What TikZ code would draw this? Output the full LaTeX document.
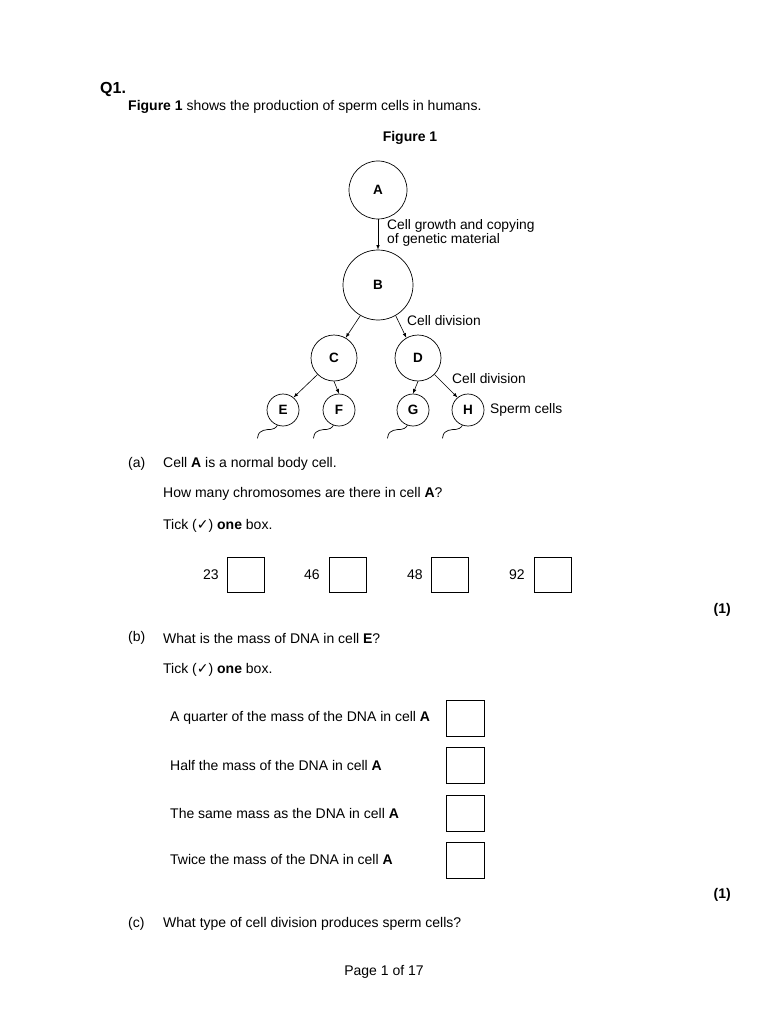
\documentclass[tikz,border=0pt]{standalone}
\usepackage{fontspec}
\setmainfont{Liberation Sans}
\newfontfamily\dejavu{DejaVu Sans}
\begin{document}
\begin{tikzpicture}[x=1pt,y=-1pt,
  txt/.style={anchor=west,inner sep=0pt,font=\fontsize{14}{16}\selectfont},
  dtxt/.style={anchor=west,inner sep=0pt,font=\fontsize{13.8}{16}\selectfont},
  cell/.style={draw,circle,line width=0.7pt,inner sep=0pt,font=\fontsize{13.5}{15}\selectfont\bfseries},
  ansbox/.style={draw,line width=0.7pt,minimum width=37pt,minimum height=35pt,inner sep=0pt},
  arr/.style={-latex,line width=0.6pt},
  tail/.style={line width=0.7pt}]
\useasboundingbox[fill=white] (0,0) rectangle (768,1024);
\node[anchor=west,inner sep=0pt,font=\fontsize{16}{18}\selectfont\bfseries] (q) at (100,89) {Q1.};
\node[txt] (t1) at (128,107) {\textbf{Figure 1} shows the production of sperm cells in humans.};
\node[txt,anchor=center] (fig) at (410,138) {\textbf{Figure 1}};
% cells
\node[cell,minimum size=58pt] (A) at (378,190) {A};
\node[cell,minimum size=70pt] (B) at (378,285) {B};
\node[cell,minimum size=46pt] (C) at (334,358) {C};
\node[cell,minimum size=46pt] (D) at (418,358) {D};
\node[cell,minimum size=32pt] (E) at (283,410) {E};
\node[cell,minimum size=32pt] (F) at (339,410) {F};
\node[cell,minimum size=32pt] (G) at (413,410) {G};
\node[cell,minimum size=32pt] (H) at (468,410) {H};
\draw[arr] (A) -- (B);
\draw[arr] (B.240) -- (C.60);
\draw[arr] (B.300) -- (D.120);
\draw[arr] (C.225) -- (E.50);
\draw[arr] (C.270) -- (F.90);
\draw[arr] (D.270) -- (G.90);
\draw[arr] (D.315) -- (H.130);
\foreach \n in {E,F,G,H}{
  \draw[tail] (\n.250) .. controls +(-4,6) and +(6,-2) .. ++(-14,5) .. controls +(-5,2) and +(0,-3) .. ++(-6,8);
}
\node[dtxt] (l1) at (387,226) {Cell growth and copying};
\node[dtxt] (l2) at (387,240) {of genetic material};
\node[dtxt] (l3) at (407,321) {Cell division};
\node[dtxt] (l4) at (452,379) {Cell division};
\node[dtxt] (l5) at (490,410) {Sperm cells};
% (a)
\node[txt] (pa) at (128,464) {(a)};
\node[txt] (a1) at (163,464) {Cell \textbf{A} is a normal body cell.};
\node[txt] (a2) at (163,494) {How many chromosomes are there in cell \textbf{A}?};
\node[txt] (a3) at (163,526) {Tick ({\dejavu\bfseries ✓}) \textbf{one} box.};
\node[txt] (n23) at (203,575) {23};
\node[ansbox] (b23) at (245.5,574.5) {};
\node[txt] (n46) at (304,575) {46};
\node[ansbox] (b46) at (347.5,574.5) {};
\node[txt] (n48) at (407,575) {48};
\node[ansbox] (b48) at (449.5,574.5) {};
\node[txt] (n92) at (509,575) {92};
\node[ansbox] (b92) at (552.5,574.5) {};
\node[txt,anchor=east] (m1) at (731,610) {\textbf{(1)}};
% (b)
\node[txt] (pb) at (128,638) {(b)};
\node[txt] (b1) at (163,638) {What is the mass of DNA in cell \textbf{E}?};
\node[txt] (b2) at (163,670) {Tick ({\dejavu\bfseries ✓}) \textbf{one} box.};
\node[txt] (o1) at (170,718) {A quarter of the mass of the DNA in cell \textbf{A}};
\node[txt] (o2) at (170,765) {Half the mass of the DNA in cell \textbf{A}};
\node[txt] (o3) at (170,813) {The same mass as the DNA in cell \textbf{A}};
\node[txt] (o4) at (170,859) {Twice the mass of the DNA in cell \textbf{A}};
\node[ansbox,minimum width=38pt,minimum height=36pt] (x1) at (465,718) {};
\node[ansbox,minimum width=38pt,minimum height=36pt] (x2) at (465,765) {};
\node[ansbox,minimum width=38pt,minimum height=36pt] (x3) at (465,813) {};
\node[ansbox,minimum width=38pt,minimum height=36pt] (x4) at (465,860) {};
\node[txt,anchor=east] (m2) at (731,895) {\textbf{(1)}};
\node[txt] (pc) at (128,924) {(c)};
\node[txt] (c1) at (163,924) {What type of cell division produces sperm cells?};
\node[txt,anchor=center] (pg) at (384,972) {Page 1 of 17};
\end{tikzpicture}
\end{document}
